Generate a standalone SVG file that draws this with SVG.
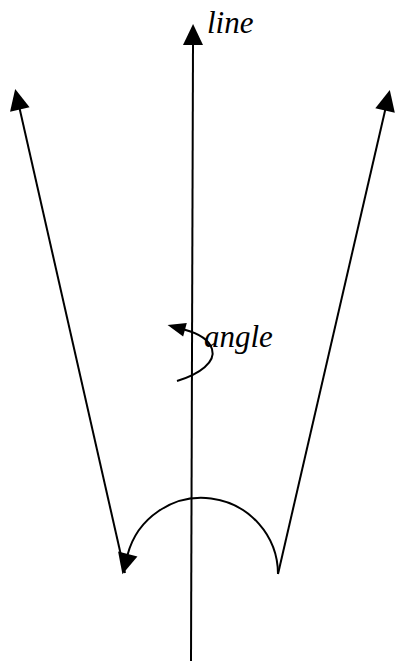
<svg xmlns="http://www.w3.org/2000/svg" width="395" height="661" viewBox="0 0 395 661">
<style>
.ln{fill:none;stroke:#000;stroke-width:2}
.lbl{font-family:"Liberation Serif","Times New Roman",serif;font-style:italic;font-size:31px;fill:#000}
</style>
<defs>
<marker id="arrow" markerUnits="userSpaceOnUse" viewBox="0 -10 21 20" markerWidth="21" markerHeight="20" refX="1" refY="0" orient="auto" overflow="visible">
<path d="M0,-10 L21,0 L0,10 z" fill="#000"/>
</marker>
<marker id="arrow-sm" markerUnits="userSpaceOnUse" viewBox="0 -7 18 14" markerWidth="18" markerHeight="14" refX="1" refY="0" orient="auto" overflow="visible">
<path d="M0,-7 L18,0 L0,7 z" fill="#000"/>
</marker>
</defs>
<rect width="395" height="661" fill="#fff"/>
<g id="connectors">
<path id="axis" class="ln" d="M191,661 L193,44" marker-end="url(#arrow)"/>
<path id="left-ray" class="ln" d="M125,573 L19.6,108.5" marker-end="url(#arrow)"/>
<path id="right-ray" class="ln" d="M278,574 L385.3,109.5" marker-end="url(#arrow)"/>
<path id="bottom-arc" class="ln" d="M278,574 A76.5,76.5 0 0 0 127.5,555" marker-end="url(#arrow)"/>
<path id="angle-arc" class="ln" d="M177,381 C200,374 216,362 212,349 C209,339 197,333 184,329.5" marker-end="url(#arrow-sm)"/>
</g>
<g id="label-line">
<text class="lbl" x="207" y="33">line</text>
</g>
<g id="label-angle">
<text class="lbl" x="204" y="347">angle</text>
</g>
</svg>
